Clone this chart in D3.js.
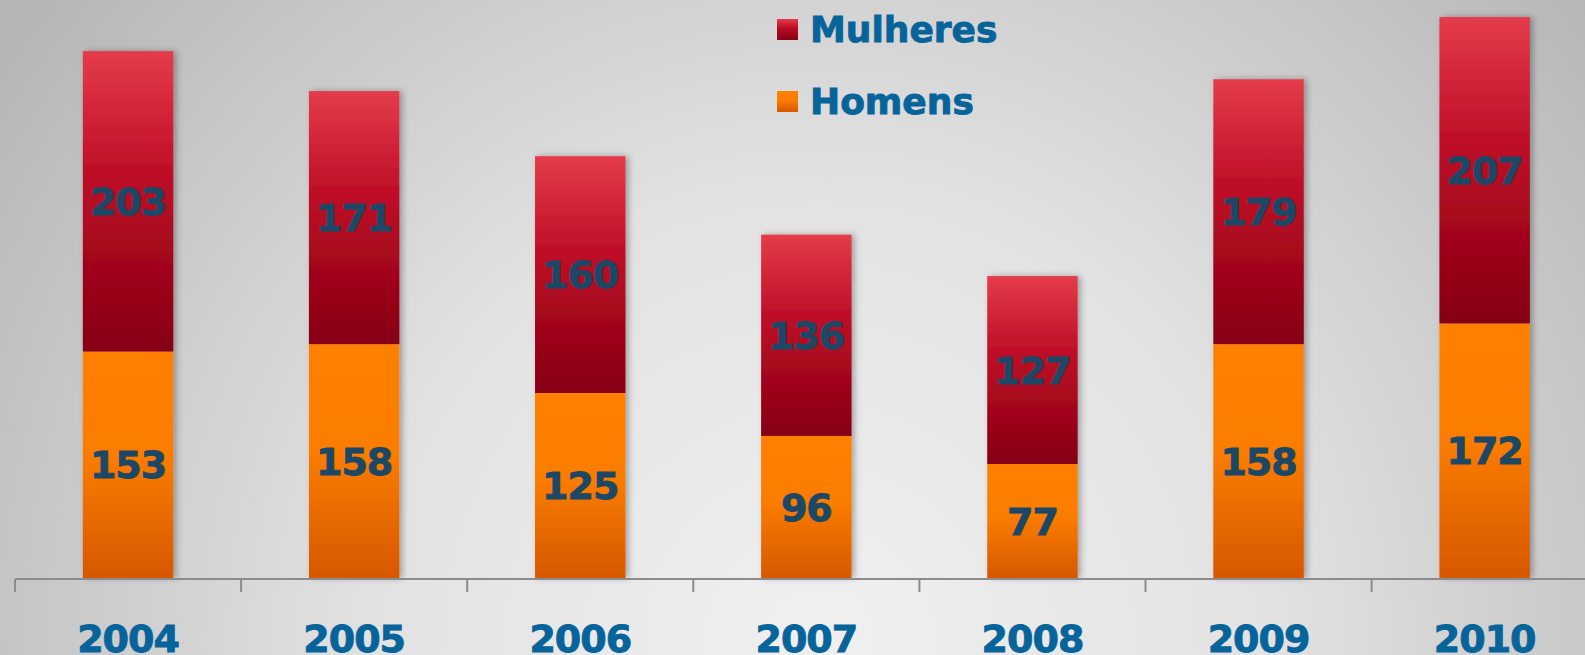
<!DOCTYPE html>
<html lang="pt">
<head>
    <meta charset="UTF-8">
    <script src="https://d3js.org/d3.v7.min.js"></script>
    <style>
        body { margin: 0; padding: 0; overflow: hidden; }
        svg { display: block; }
        text { font-family: "DejaVu Sans", Verdana, sans-serif; font-weight: bold; }
    </style>
</head>
<body>
    <svg id="chart"></svg>
    <script>
        const anos = ["2004", "2005", "2006", "2007", "2008", "2009", "2010"];
        const homens = [153, 158, 125, 96, 77, 158, 172];
        const mulheres = [203, 171, 160, 136, 127, 179, 207];
        const series = ["Mulheres", "Homens"];

        const width = 1585, height = 655;
        const svg = d3.select("#chart").attr("width", width).attr("height", height);
        const defs = svg.append("defs");

        // fundo cinza com brilho no centro-baixo
        const bg = defs.append("radialGradient").attr("id", "bg")
            .attr("gradientUnits", "userSpaceOnUse")
            .attr("cx", 820).attr("cy", 640).attr("r", 1000);
        bg.append("stop").attr("offset", "0").attr("stop-color", "#f0f0f0");
        bg.append("stop").attr("offset", "0.45").attr("stop-color", "#e2e2e2");
        bg.append("stop").attr("offset", "1").attr("stop-color", "#b6b6b6");
        svg.append("rect").attr("width", width).attr("height", height).attr("fill", "url(#bg)");

        const gRed = defs.append("linearGradient").attr("id", "gRed").attr("x1", 0).attr("y1", 0).attr("x2", 0).attr("y2", 1);
        gRed.append("stop").attr("offset", "0").attr("stop-color", "#e43c4a");
        gRed.append("stop").attr("offset", "0.42").attr("stop-color", "#bd0c26");
        gRed.append("stop").attr("offset", "1").attr("stop-color", "#860012");
        const gOr = defs.append("linearGradient").attr("id", "gOr").attr("x1", 0).attr("y1", 0).attr("x2", 0).attr("y2", 1);
        gOr.append("stop").attr("offset", "0").attr("stop-color", "#ff8000");
        gOr.append("stop").attr("offset", "0.45").attr("stop-color", "#fb7d00");
        gOr.append("stop").attr("offset", "1").attr("stop-color", "#d65800");

        const shadow = defs.append("filter").attr("id", "shadow")
            .attr("x", "-20%").attr("y", "-10%").attr("width", "150%").attr("height", "120%");
        shadow.append("feDropShadow").attr("dx", 3).attr("dy", 0).attr("stdDeviation", 3)
            .attr("flood-color", "#000").attr("flood-opacity", 0.3);

        const x = d3.scaleBand().domain(anos).range([15, 1597.7])
            .paddingInner(0.6).paddingOuter(0.3);
        const y = d3.scaleLinear().domain([0, 400]).range([578, -14]);

        const data = anos.map((a, i) => ({ ano: a, h: homens[i], m: mulheres[i] }));

        const bars = svg.append("g").selectAll("g").data(data).enter().append("g")
            .attr("filter", "url(#shadow)");
        bars.append("rect")
            .attr("x", d => x(d.ano)).attr("width", x.bandwidth())
            .attr("y", d => y(d.h)).attr("height", d => y(0) - y(d.h))
            .attr("fill", "url(#gOr)");
        bars.append("rect")
            .attr("x", d => x(d.ano)).attr("width", x.bandwidth())
            .attr("y", d => y(d.h + d.m)).attr("height", d => y(d.h) - y(d.h + d.m))
            .attr("fill", "url(#gRed)");

        const lbl = svg.append("g").attr("fill", "#1c4866").attr("stroke", "#1c4866")
            .attr("stroke-width", 0.9).attr("font-size", "38px")
            .attr("text-anchor", "middle").attr("letter-spacing", "-1");
        lbl.selectAll(".lh").data(data).enter().append("text")
            .attr("x", d => x(d.ano) + x.bandwidth() / 2)
            .attr("y", d => (y(0) + y(d.h)) / 2).attr("dy", "0.36em")
            .text(d => d.h);
        lbl.selectAll(".lm").data(data).enter().append("text")
            .attr("x", d => x(d.ano) + x.bandwidth() / 2)
            .attr("y", d => (y(d.h) + y(d.h + d.m)) / 2).attr("dy", "0.36em")
            .text(d => d.m);

        // eixo
        const step = x.step();
        const axis = svg.append("g").attr("transform", `translate(0,${y(0) + 1})`);
        axis.append("line").attr("x1", 15).attr("x2", width).attr("stroke", "#8c8c8c").attr("stroke-width", 2);
        axis.selectAll(".tk").data(anos).enter().append("line")
            .attr("x1", d => x(d) - step * 0.3).attr("x2", d => x(d) - step * 0.3)
            .attr("y1", 0).attr("y2", 13).attr("stroke", "#8c8c8c").attr("stroke-width", 2);
        const ax = axis.append("g").call(d3.axisBottom(x).tickSize(0).tickPadding(46));
        ax.select(".domain").remove();
        ax.selectAll("text").attr("font-size", "38px").attr("fill", "#06649b")
            .attr("stroke", "#06649b").attr("stroke-width", 0.9)
            .attr("font-family", "DejaVu Sans, Verdana, sans-serif").attr("font-weight", "bold")
            .attr("letter-spacing", "-1");

        // legenda
        const color = { Mulheres: "url(#gRed)", Homens: "url(#gOr)" };
        const leg = svg.append("g").selectAll("g").data(series).enter().append("g")
            .attr("transform", (d, i) => `translate(777,${19 + i * 72})`);
        leg.append("rect").attr("width", 21).attr("height", 21).attr("fill", d => color[d]);
        leg.append("text").attr("x", 33).attr("y", 10).attr("dy", "0.36em")
            .attr("font-size", "36px").attr("fill", "#06649b")
            .attr("stroke", "#06649b").attr("stroke-width", 0.9).text(d => d);
    </script>
</body>
</html>
